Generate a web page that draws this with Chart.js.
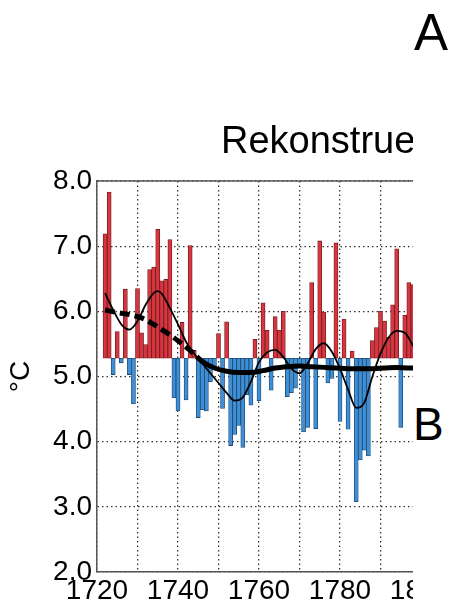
<!DOCTYPE html>
<html>
<head>
<meta charset="utf-8">
<script src="https://cdn.jsdelivr.net/npm/chart.js@4/dist/chart.umd.min.js"></script>
<style>
html,body{margin:0;padding:0;background:#fff;}
body{width:451px;height:608px;position:relative;overflow:hidden;font-family:'Liberation Sans',Arial,sans-serif;}
#wrap{position:absolute;left:0;top:0;width:413px;height:608px;overflow:hidden;}
#c{position:absolute;left:0;top:0;}
.lbl{position:absolute;line-height:1;color:#000;white-space:nowrap;}
</style>
</head>
<body>
<div id="wrap">
  <canvas id="c" width="451" height="608"></canvas>
  <div class="lbl" style="left:221px;top:121px;font-size:38px">Rekonstrue</div>
</div>
<div class="lbl" style="left:414px;top:7px;font-size:51px">A</div>
<div class="lbl" style="left:413px;top:401px;font-size:46px">B</div>
<script>
// ---- data ----
const years = [1722,1723,1724,1725,1726,1727,1728,1729,1730,1731,1732,1733,1734,1735,1736,1737,1738,1739,1740,1741,
  1742,1743,1744,1745,1746,1747,1748,1749,1750,1751,1752,1753,1754,1755,1756,1757,1758,1759,1760,1761,
  1762,1763,1764,1765,1766,1767,1768,1769,1770,1771,1772,1773,1774,1775,1776,1777,1778,1779,1780,1781,
  1782,1783,1784,1785,1786,1787,1788,1789,1790,1791,1792,1793,1794,1795,1796,1797,1798,1799];
const temps = [7.19,7.83,5.03,5.69,5.21,6.34,5.03,4.58,6.35,5.67,5.49,6.64,6.68,7.26,6.47,6.49,7.10,4.67,4.47,5.83,
  4.64,7.01,5.40,4.37,4.49,4.47,4.92,5.15,5.66,4.51,5.84,3.94,4.11,4.25,3.91,4.72,4.56,5.57,4.63,6.13,
  5.71,4.79,5.92,5.71,6.00,4.69,4.75,4.82,5.15,4.15,4.22,6.44,4.20,7.08,5.99,4.90,4.97,7.05,4.31,5.88,
  4.19,5.39,3.08,3.72,3.87,3.78,5.55,5.75,6.00,5.85,5.60,6.10,6.96,4.22,5.94,6.44,6.41,3.98];
const baseline = 5.28;

const thinYears = [1722,1724,1726,1728,1730,1732,1734,1735,1736,1738,1740,1742,1744,1746,1748,1750,1752,1754,1756,1758,
  1760,1762,1764,1766,1768,1770,1772,1774,1776,1778,1780,1782,1784,1786,1788,1790,1792,1794,1796,1798,1799];
const thinVals = [6.28,6.02,5.80,5.72,5.85,6.10,6.28,6.31,6.27,6.05,5.80,5.53,5.35,5.20,5.05,4.90,4.75,4.63,4.68,4.92,
  5.22,5.37,5.41,5.30,5.12,5.05,5.20,5.42,5.51,5.38,5.12,4.80,4.52,4.60,5.00,5.35,5.60,5.70,5.67,5.48,5.38];

const trendYears = [1722,1725,1728,1731,1734,1737,1740,1743,1746,1749,1752,1755,1758,1761,1764,1767,1770,1773,1776,1779,
  1782,1785,1788,1791,1794,1797,1799];
const trendVals = [6.02,5.98,5.95,5.90,5.80,5.68,5.55,5.40,5.23,5.13,5.08,5.06,5.06,5.09,5.13,5.15,5.16,5.15,5.14,5.13,
  5.12,5.12,5.12,5.13,5.14,5.13,5.13];

const yMin = 2, yMax = 8;
const xMin = 1720, xMax = 1800;
const xLabelYears = [1720,1740,1760,1780,1800];

// ---- styles ----
const RED = '#d7353f', RED_EDGE = '#6e1a1e';
const BLUE = '#3f8fd6', BLUE_EDGE = '#1d4670';
const FONT = "'Liberation Sans', Arial, sans-serif";

const frameTop = {
  id: 'frameTop',
  afterDatasetsDraw(chart) {
    const {ctx, chartArea: a} = chart;
    ctx.save();
    ctx.strokeStyle = '#555';
    ctx.lineWidth = 1.5;
    ctx.beginPath();
    ctx.moveTo(a.left, a.top);
    ctx.lineTo(a.right, a.top);
    ctx.lineTo(a.right, a.bottom);
    ctx.stroke();
    ctx.restore();
  }
};

new Chart(document.getElementById('c'), {
  type: 'bar',
  data: {
    datasets: [
      {
        type: 'line',
        label: 'smooth',
        data: thinYears.map((x, i) => ({x, y: thinVals[i]})),
        borderColor: '#000',
        borderWidth: 1.8,
        pointRadius: 0,
        cubicInterpolationMode: 'monotone',
        fill: false,
        order: 0
      },
      {
        type: 'line',
        label: 'trend',
        data: trendYears.map((x, i) => ({x, y: trendVals[i]})),
        borderColor: '#000',
        borderWidth: 5,
        pointRadius: 0,
        borderCapStyle: 'butt',
        cubicInterpolationMode: 'monotone',
        fill: false,
        segment: {
          borderDash: c => (c.p1.parsed.x <= 1746 ? [10, 5] : undefined)
        },
        order: 1
      },
      {
        type: 'bar',
        label: 'temp',
        data: years.map((x, i) => ({x, y: [baseline, temps[i]]})),
        backgroundColor: c => (temps[c.dataIndex] >= baseline ? RED : BLUE),
        borderColor: c => (temps[c.dataIndex] >= baseline ? RED_EDGE : BLUE_EDGE),
        borderWidth: 0.8,
        borderSkipped: false,
        barPercentage: 1,
        categoryPercentage: 1,
        order: 2
      }
    ]
  },
  options: {
    responsive: false,
    animation: false,
    devicePixelRatio: 1,
    layout: {padding: {top: 181, left: 0, right: 30, bottom: 0}},
    plugins: {legend: {display: false}, tooltip: {enabled: false}, title: {display: false}},
    scales: {
      x: {
        type: 'linear',
        offset: false,
        min: xMin, max: xMax,
        grid: {color: '#333', lineWidth: 1.3, drawTicks: false, offset: false},
        border: {display: true, color: '#555', width: 1.5, dash: [1.5, 3]},
        ticks: {
          stepSize: 10,
          autoSkip: false,
          maxRotation: 0,
          padding: 2,
          color: '#000',
          font: {family: FONT, size: 28},
          callback: v => (xLabelYears.includes(v) ? String(v) : '')
        },
        afterFit: s => { s.height = 36; s.paddingLeft = 0; s.paddingRight = 0; }
      },
      y: {
        type: 'linear',
        min: yMin, max: yMax,
        grid: {color: '#333', lineWidth: 1.3, drawTicks: false},
        border: {display: true, color: '#555', width: 1.5, dash: [1.5, 3]},
        ticks: {
          stepSize: 1,
          padding: 5,
          color: '#000',
          font: {family: FONT, size: 28},
          callback: v => v.toFixed(1)
        },
        title: {display: true, text: '°C', color: '#000', font: {family: FONT, size: 28}, padding: {top: 4, bottom: 0}},
        afterFit: s => { s.width = 97; }
      }
    }
  },
  plugins: [frameTop]
});
</script>
</body>
</html>
